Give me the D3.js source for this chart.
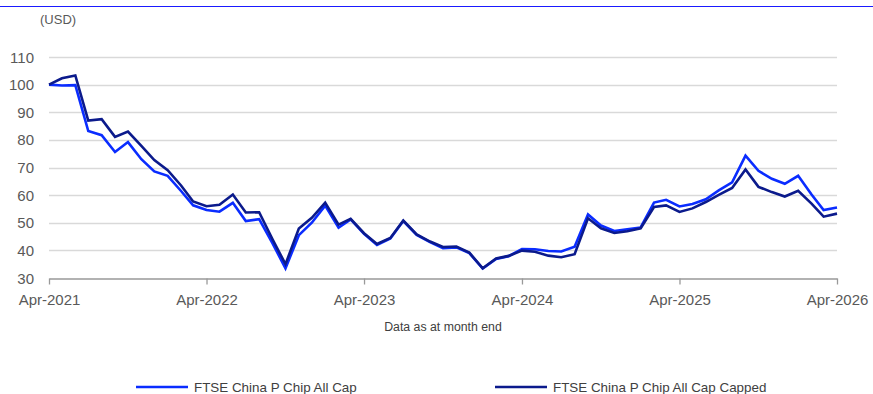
<!DOCTYPE html>
<html>
<head>
<meta charset="utf-8">
<script src="https://cdn.jsdelivr.net/npm/d3@7"></script>
<style>
  body { margin: 0; background: #fff; }
  svg { display: block; font-family: "Liberation Sans", Arial, sans-serif; }
</style>
</head>
<body>
<div id="chart"></div>
<script>
// monthly index values, Apr-2021 .. Apr-2026
var startMonth = new Date(2021, 3, 1);
var allCap = [100, 99.7, 99.8, 83.2, 81.7, 75.6, 79.2, 73, 68.6, 67, 61.5, 56.3,
  54.6, 54, 57.2, 50.6, 51.3, 42.5, 33.5, 45.5, 50, 56.2, 48.2, 51.2,
  46, 42, 44.3, 50.6, 45.6, 43, 40.8, 41.1, 39, 33.4, 36.9, 37.9,
  40.5, 40.4, 39.8, 39.6, 41.3, 53, 49, 47, 47.6, 48.3, 57.3, 58.3,
  55.9, 56.8, 58.5, 61.7, 64.6, 74.3, 68.8, 65.9, 64.1, 67, 60.2, 54.6, 55.5];
var allCapCapped = [100, 102.3, 103.3, 87, 87.5, 81.1, 83, 77.8, 72.7, 69, 63.5, 57.7,
  56, 56.5, 60.2, 53.7, 53.8, 44, 35, 47.9, 51.8, 57.3, 49.3, 51.4,
  46.2, 42.3, 44.5, 50.8, 45.8, 43.2, 41.2, 41.4, 39.2, 33.5, 37.1, 38,
  39.9, 39.5, 38.1, 37.5, 38.6, 51.6, 48, 46.3, 46.9, 48, 55.7, 56.3,
  53.9, 55.2, 57.5, 60.1, 62.6, 69.3, 63, 61.1, 59.5, 61.6, 56.9, 52.2, 53.3];
var seriesNames = ["FTSE China P Chip All Cap", "FTSE China P Chip All Cap Capped"];
var seriesColors = ["#0a2cff", "#0b1a8c"];
var yTicks = [30, 40, 50, 60, 70, 80, 90, 100, 110];
var xTickLabels = ["Apr-2021", "Apr-2022", "Apr-2023", "Apr-2024", "Apr-2025", "Apr-2026"];

var W = 873, H = 394;
var margin = {top: 57, right: 36, bottom: 116, left: 49};

var svg = d3.select("#chart").append("svg")
  .attr("width", W).attr("height", H);

// top rule
svg.append("line")
  .attr("x1", 0).attr("x2", W).attr("y1", 6.5).attr("y2", 6.5)
  .attr("stroke", "#1a1aff").attr("stroke-width", 1);

var dates = allCap.map(function(d, i) { return d3.timeMonth.offset(startMonth, i); });

var x = d3.scaleTime()
  .domain([dates[0], dates[dates.length - 1]])
  .range([margin.left, W - margin.right]);
var y = d3.scaleLinear()
  .domain([30, 110])
  .range([H - margin.bottom, margin.top]);

// gridlines
svg.append("g")
  .selectAll("line")
  .data(yTicks.slice(1))
  .enter().append("line")
    .attr("x1", x.range()[0]).attr("x2", x.range()[1])
    .attr("y1", function(d) { return Math.round(y(d)) + 0.5; })
    .attr("y2", function(d) { return Math.round(y(d)) + 0.5; })
    .attr("stroke", "#d9d9d9").attr("stroke-width", 1.3);

// y labels
svg.append("g")
  .selectAll("text")
  .data(yTicks)
  .enter().append("text")
    .attr("x", 34)
    .attr("y", function(d) { return y(d) + 5.5; })
    .attr("text-anchor", "end")
    .style("font-size", "15px")
    .style("fill", "#595959")
    .text(function(d) { return d; });

// x axis
var xTickDates = xTickLabels.map(function(d, i) { return d3.timeYear.offset(startMonth, i); });
var xAxis = d3.axisBottom(x)
  .tickValues(xTickDates)
  .tickSize(6)
  .tickSizeOuter(0)
  .tickFormat(function(d, i) { return xTickLabels[i]; });

var gx = svg.append("g")
  .attr("transform", "translate(0," + (Math.round(y(30)) + 0.5) + ")")
  .call(xAxis);
gx.select(".domain").attr("stroke", "#999").attr("stroke-width", 1.5);
gx.selectAll(".tick line").attr("stroke", "#999").attr("stroke-width", 1.3);
gx.selectAll(".tick text")
  .attr("y", 16)
  .style("font-family", "'Liberation Sans', Arial, sans-serif")
  .style("font-size", "15px")
  .style("fill", "#595959");

// lines
var line = d3.line()
  .x(function(d, i) { return x(dates[i]); })
  .y(function(d) { return y(d); });

[allCap, allCapCapped].forEach(function(s, k) {
  svg.append("path")
    .datum(s)
    .attr("d", line)
    .attr("fill", "none")
    .attr("stroke", seriesColors[k])
    .attr("stroke-width", 2.6)
    .attr("stroke-linejoin", "miter");
});

// unit label
svg.append("text")
  .attr("x", 40).attr("y", 24)
  .style("font-size", "13px")
  .style("fill", "#595959")
  .text("(USD)");

// footnote
svg.append("text")
  .attr("x", 443).attr("y", 331)
  .attr("text-anchor", "middle")
  .style("font-size", "12.3px")
  .style("fill", "#404040")
  .text("Data as at month end");

// legend
var legendX = [136, 495];
var legend = svg.append("g");
seriesNames.forEach(function(name, k) {
  legend.append("line")
    .attr("x1", legendX[k]).attr("x2", legendX[k] + 52)
    .attr("y1", 387).attr("y2", 387)
    .attr("stroke", seriesColors[k]).attr("stroke-width", 2.6);
  legend.append("text")
    .attr("x", legendX[k] + 58).attr("y", 391.5)
    .style("font-size", "13.4px")
    .style("fill", "#404040")
    .text(name);
});
</script>
</body>
</html>
